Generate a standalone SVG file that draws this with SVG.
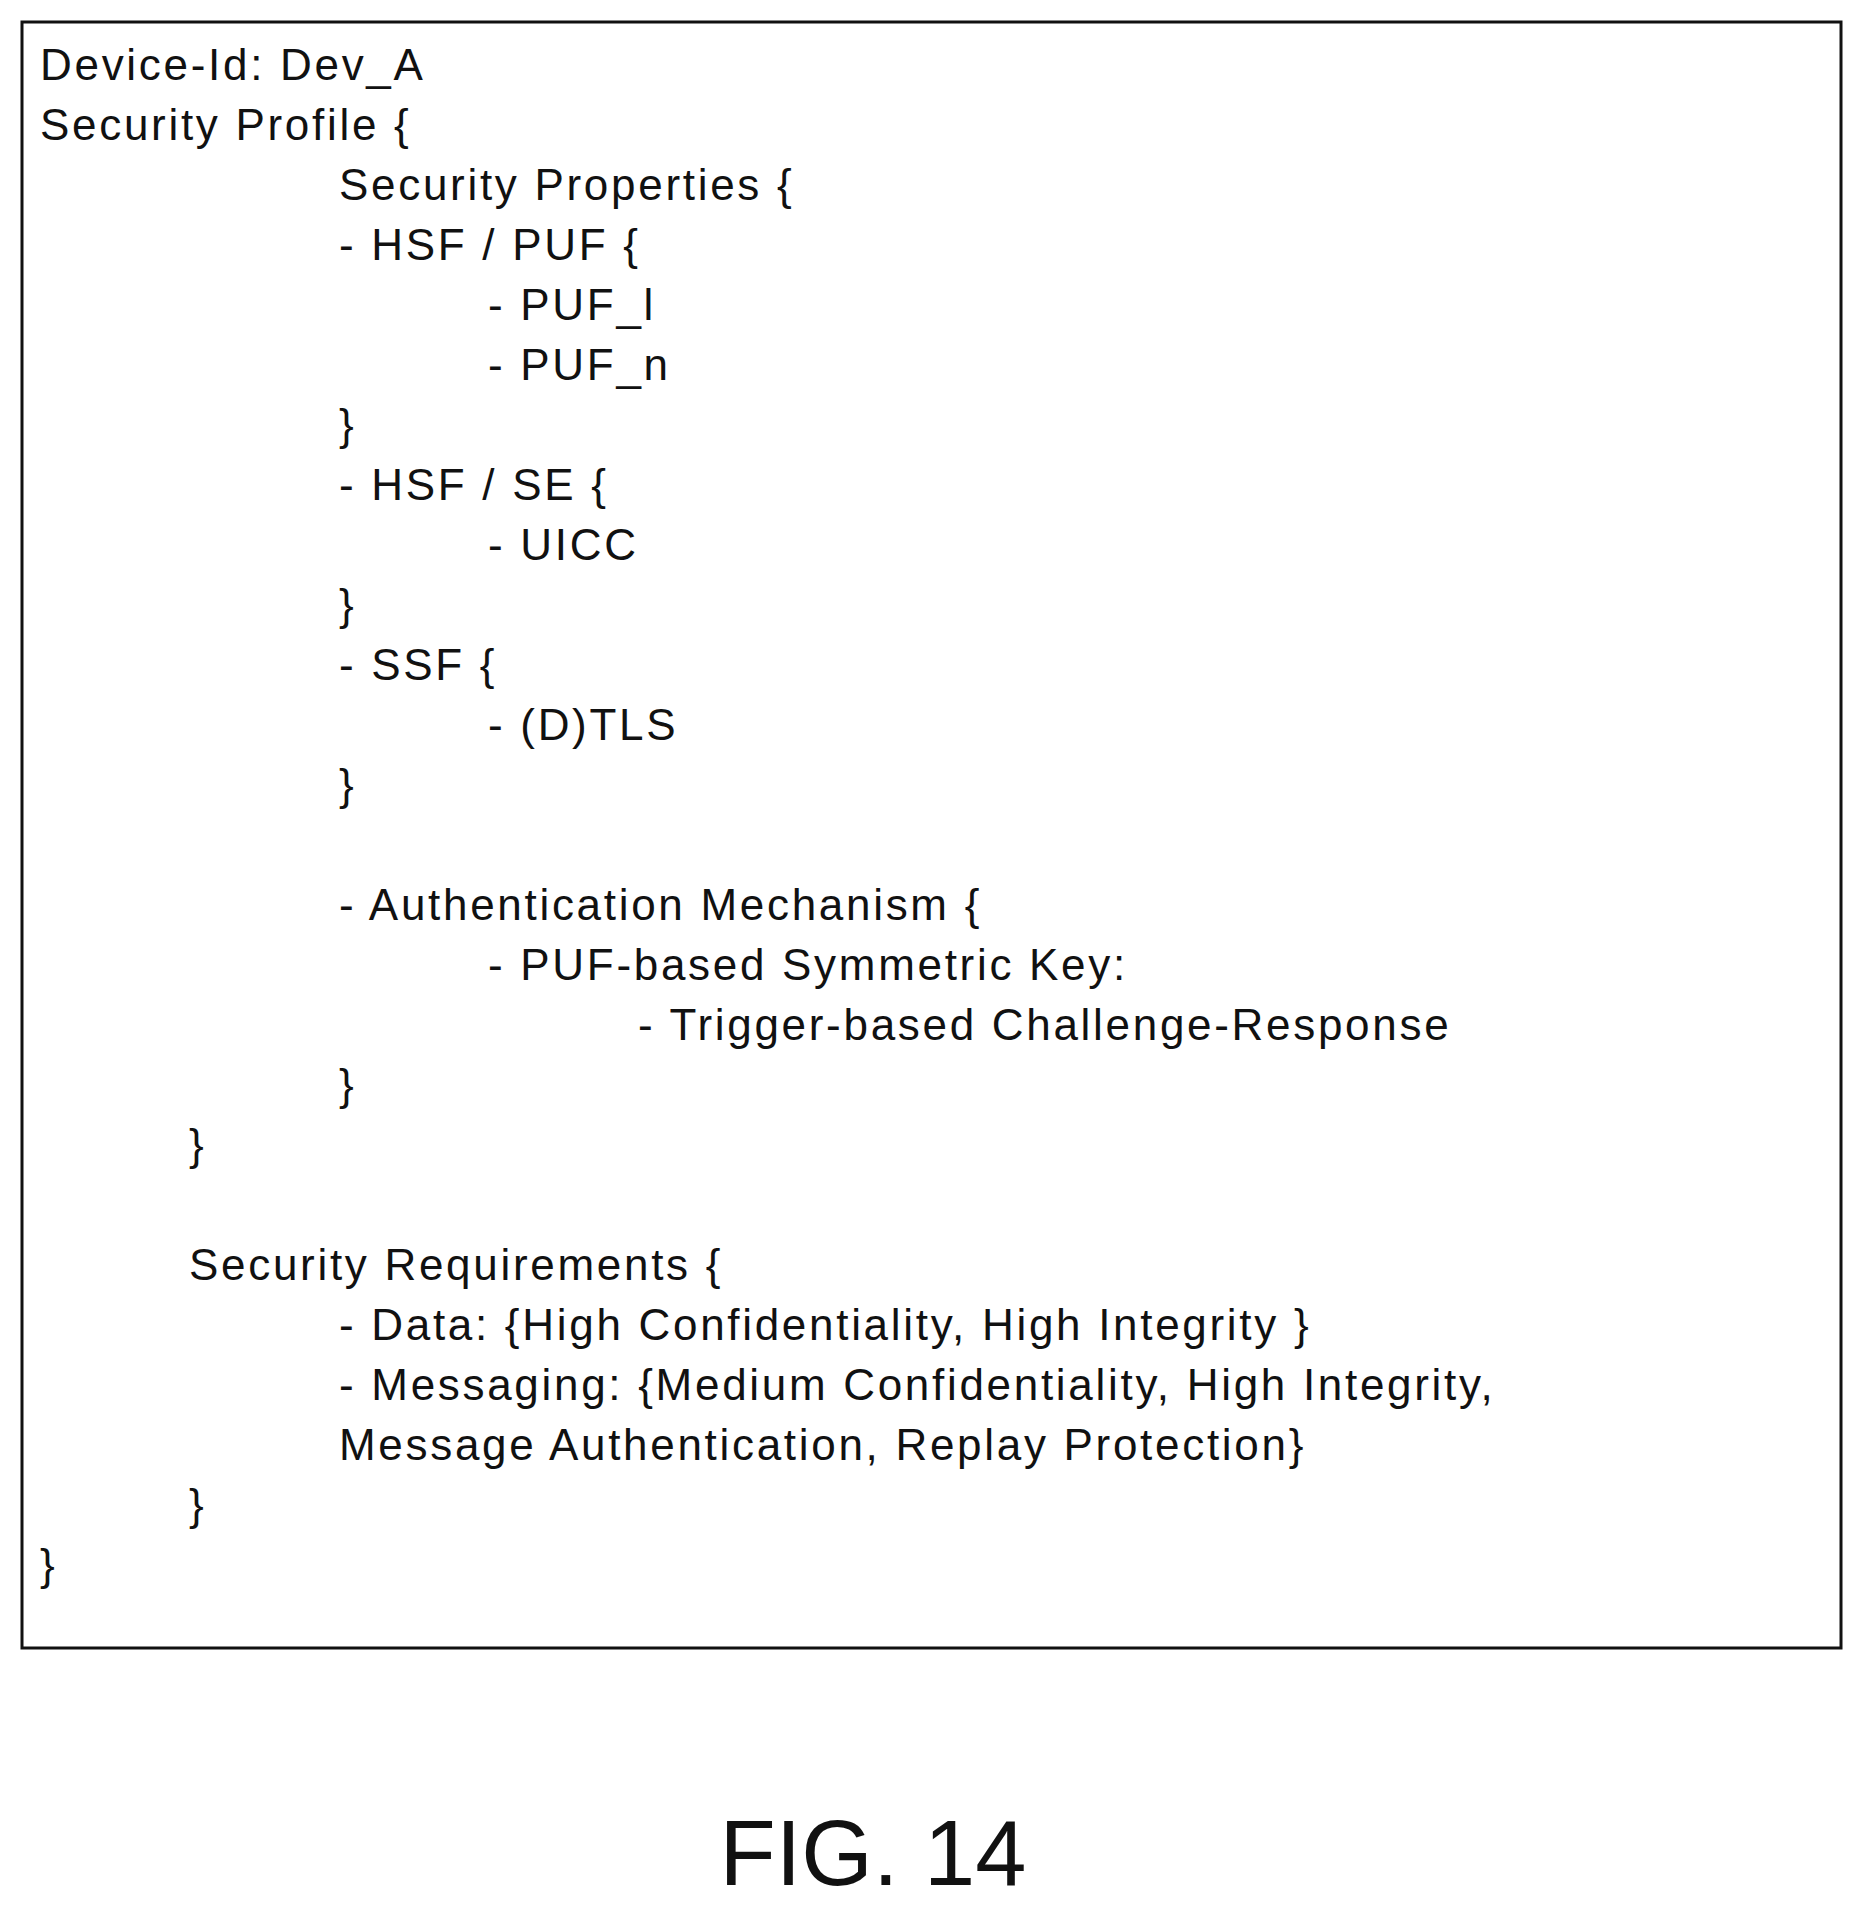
<svg xmlns="http://www.w3.org/2000/svg" width="1863" height="1909" viewBox="0 0 1863 1909">
<style>
text{font-family:"Liberation Sans",Arial,sans-serif;font-size:44px;fill:#111;letter-spacing:2.7px}
.fig{font-size:92px;letter-spacing:0}
</style>
<rect width="1863" height="1909" fill="#fff"/>
<g id="profile">
<rect x="22" y="22" width="1819" height="1626" fill="none" stroke="#111" stroke-width="3"/>
<text x="40" y="80">Device-Id: Dev_A</text>
<text x="40" y="140">Security Profile {</text>
<text x="339" y="200">Security Properties {</text>
<text x="339" y="260">- HSF / PUF {</text>
<text x="488" y="320">- PUF_l</text>
<text x="488" y="380">- PUF_n</text>
<text x="339" y="440">}</text>
<text x="339" y="500">- HSF / SE {</text>
<text x="488" y="560">- UICC</text>
<text x="339" y="620">}</text>
<text x="339" y="680">- SSF {</text>
<text x="488" y="740">- (D)TLS</text>
<text x="339" y="800">}</text>
<text x="339" y="920">- Authentication Mechanism {</text>
<text x="488" y="980">- PUF-based Symmetric Key:</text>
<text x="638" y="1040">- Trigger-based Challenge-Response</text>
<text x="339" y="1100">}</text>
<text x="189" y="1160">}</text>
<text x="189" y="1280">Security Requirements {</text>
<text x="339" y="1340">- Data: {High Confidentiality, High Integrity }</text>
<text x="339" y="1400">- Messaging: {Medium Confidentiality, High Integrity,</text>
<text x="339" y="1460">Message Authentication, Replay Protection}</text>
<text x="189" y="1520">}</text>
<text x="40" y="1580">}</text>
</g>
<g id="connectors"/>
<text class="fig" x="873" y="1885" text-anchor="middle">FIG. 14</text>
</svg>
